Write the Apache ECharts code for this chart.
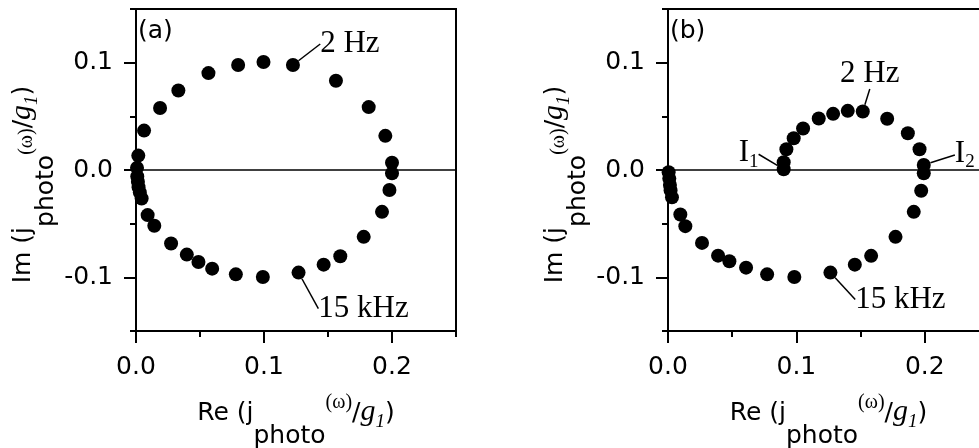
<!DOCTYPE html>
<html>
<head>
<meta charset="utf-8">
<script src="https://cdn.jsdelivr.net/npm/echarts@6/dist/echarts.min.js"></script>
<style>
    html, body { margin: 0; padding: 0; background: #fff; }
    #myChart { width: 979px; height: 448px; }
</style>
</head>
<body>
<div id="myChart"></div>
<script>
    // panel (a): Re / Im of j_photo(w)/g1
    const reA = [0.0008, 0.0018, 0.0063, 0.0188, 0.0331, 0.0566, 0.0798, 0.0996, 0.1226, 0.1562, 0.1818, 0.1948, 0.2000, 0.2000, 0.1980,
        0.1922, 0.1779, 0.1596, 0.1466, 0.1270, 0.0991, 0.0780, 0.0595, 0.0488, 0.0397, 0.0274, 0.0143, 0.0091, 0.0044,
        0.0030, 0.0020, 0.0015, 0.0010];
    const imA = [0.0020, 0.0134, 0.0367, 0.0577, 0.0741, 0.0903, 0.0978, 0.1006, 0.0978, 0.0832, 0.0586, 0.0318, 0.0068, -0.0031, -0.0187,
        -0.0390, -0.0623, -0.0804, -0.0882, -0.0956, -0.0997, -0.0972, -0.0919, -0.0857, -0.0788, -0.0685, -0.0520, -0.0420, -0.0265,
        -0.0210, -0.0160, -0.0110, -0.0060];

    // panel (b)
    const reB = [0.0005, 0.0010, 0.0015, 0.0020, 0.0031, 0.0096, 0.0135, 0.0265, 0.0390, 0.0478, 0.0608, 0.0772, 0.0984, 0.1265, 0.1455,
        0.1582, 0.1772, 0.1914, 0.1972, 0.1992, 0.1992, 0.1959, 0.1868, 0.1707, 0.1517, 0.1400, 0.1286, 0.1174, 0.1052, 0.0979,
        0.0922, 0.0901, 0.0901];
    const imB = [-0.0020, -0.0080, -0.0140, -0.0190, -0.0255, -0.0414, -0.0523, -0.0679, -0.0798, -0.0850, -0.0910, -0.0972, -0.0997, -0.0956, -0.0882,
        -0.0800, -0.0623, -0.0390, -0.0193, -0.0031, 0.0047, 0.0193, 0.0343, 0.0477, 0.0545, 0.0551, 0.0523, 0.0480, 0.0386, 0.0296,
        0.0193, 0.0072, 0.0007];

    // annotated points (data index -> text)
    const notesA = {8: '2 Hz', 19: '15 kHz'};
    const notesB = {24: '2 Hz', 13: '15 kHz', 32: '{t|I}{sb|1}', 20: '{t|I}{sb|2}'};

    const xTicks = [0, 0.1, 0.2];
    const xMinor = [0.05, 0.15, 0.25];
    const yTicks = [-0.1, 0, 0.1];
    const yMinor = [-0.15, -0.05, 0.05, 0.15];

    const SANS = 'DejaVu Sans';
    const SERIF = 'Liberation Serif';

    /* sub/superscript pieces of the axis titles, all bottom aligned, raised by bottom padding */
    function nameRich(supPad) {
        return {
            b: {fontFamily: SANS, fontSize: 25, verticalAlign: 'bottom', padding: [0, 0, 23, 0], color: '#000'},
            s: {fontFamily: SANS, fontSize: 25, verticalAlign: 'bottom', padding: [0, 0, 0, 0], color: '#000'},
            p: {fontFamily: SERIF, fontSize: 20, verticalAlign: 'bottom', padding: [0, 0, supPad, 0], color: '#000'},
            g: {fontFamily: SERIF, fontStyle: 'italic', fontSize: 30, verticalAlign: 'bottom', padding: [0, 0, 22, 0], color: '#000'},
            i: {fontFamily: SERIF, fontStyle: 'italic', fontSize: 19, verticalAlign: 'bottom', padding: [0, 0, 18, 0], color: '#000'}
        };
    }
    const tail = '{p|(ω)}{b|/}{g|g}{i|1}{b|)}';

    function xAxes(gi) {
        return [{
            gridIndex: gi, type: 'value', min: 0, max: 0.25, position: 'bottom',
            axisLine: {show: true, onZero: false, lineStyle: {color: '#000', width: 2}},
            axisTick: {show: true, inside: false, length: 12, customValues: xTicks, lineStyle: {color: '#000', width: 2}},
            axisLabel: {customValues: xTicks, formatter: v => v.toFixed(1), margin: 24,
                fontFamily: SANS, fontSize: 25, color: '#000'},
            splitLine: {show: false},
            name: '{b|Re (j}{s|photo}' + tail, nameLocation: 'middle', nameGap: 62,
            nameTextStyle: {rich: nameRich(36)}
        }, {
            gridIndex: gi, type: 'value', min: 0, max: 0.25, position: 'bottom',
            axisLine: {show: false, onZero: false},
            axisTick: {show: true, inside: false, length: 6, customValues: xMinor, lineStyle: {color: '#000', width: 2}},
            axisLabel: {show: false},
            splitLine: {show: false}
        }];
    }

    function yAxes(gi) {
        return [{
            gridIndex: gi, type: 'value', min: -0.15, max: 0.15, position: 'left',
            axisLine: {show: true, onZero: false, lineStyle: {color: '#000', width: 2}},
            axisTick: {show: true, inside: false, length: 12, customValues: yTicks, lineStyle: {color: '#000', width: 2}},
            axisLabel: {customValues: yTicks, formatter: v => v.toFixed(1), margin: 23,
                fontFamily: SANS, fontSize: 25, color: '#000'},
            splitLine: {show: false},
            name: '{b|Im (j}{s|photo}' + tail, nameLocation: 'middle', nameGap: 77,
            nameTextStyle: {rich: nameRich(22), padding: [0, 29, 0, 0]}
        }, {
            gridIndex: gi, type: 'value', min: -0.15, max: 0.15, position: 'left',
            axisLine: {show: false, onZero: false},
            axisTick: {show: true, inside: false, length: 6, customValues: yMinor, lineStyle: {color: '#000', width: 2}},
            axisLabel: {show: false},
            splitLine: {show: false}
        }];
    }

    function points(re, im, notes) {
        return re.map((x, i) => {
            const item = {value: [x, im[i]]};
            if (notes[i]) item.label = {show: true, formatter: notes[i]};
            return item;
        });
    }

    function panel(name, re, im, notes, axisIndex, offsets) {
        return {
            name: name,
            type: 'scatter',
            xAxisIndex: axisIndex,
            yAxisIndex: axisIndex,
            symbol: 'circle',
            symbolSize: 14,
            itemStyle: {color: '#000', opacity: 1},
            silent: true,
            data: points(re, im, notes),
            label: {
                show: false, position: 'inside', color: '#000', opacity: 1,
                fontFamily: SERIF, fontSize: 31,
                rich: {
                    t: {fontFamily: SERIF, fontSize: 31, verticalAlign: 'bottom', padding: [0, 0, 3, 0], color: '#000'},
                    sb: {fontFamily: SERIF, fontSize: 19, verticalAlign: 'bottom', color: '#000'}
                }
            },
            labelLine: {show: true, lineStyle: {color: '#000', width: 1.5, opacity: 1}},
            labelLayout: function (p) {
                const o = offsets[p.dataIndex];
                return o ? {dx: o[0], dy: o[1]} : {};
            },
            markLine: {
                silent: true, symbol: 'none', label: {show: false},
                lineStyle: {color: '#000', width: 1.7, type: 'solid', opacity: 1},
                data: [{yAxis: 0}]
            }
        };
    }

    const myChart = echarts.init(document.getElementById('myChart'));

    const option = {
        animation: false,
        backgroundColor: '#fff',
        grid: [
            {left: 136, top: 9, width: 320, height: 322, show: true, borderColor: '#000', borderWidth: 2,
                outerBoundsMode: 'none', containLabel: false},
            {left: 668, top: 9, width: 321, height: 322, show: true, borderColor: '#000', borderWidth: 2,
                outerBoundsMode: 'none', containLabel: false}
        ],
        xAxis: [...xAxes(0), ...xAxes(1)],
        yAxis: [...yAxes(0), ...yAxes(1)],
        graphic: [
            {type: 'text', left: 138, top: 19, style: {text: '(a)', font: '25px "DejaVu Sans"', fill: '#000'}},
            {type: 'text', left: 670, top: 19, style: {text: '(b)', font: '25px "DejaVu Sans"', fill: '#000'}}
        ],
        series: [
            panel('a', reA, imA, notesA, 0, {8: [57, -21], 19: [65, 36]}),
            panel('b', reB, imB, notesB, 2, {24: [7, -38], 13: [70, 27], 32: [-35, -15], 20: [41, -10]})
        ]
    };

    myChart.setOption(option);
</script>
</body>
</html>
